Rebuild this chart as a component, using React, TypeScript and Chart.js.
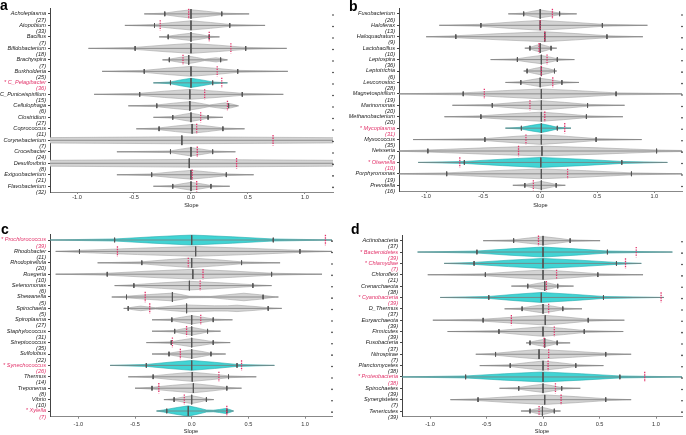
import React, { useEffect, useRef } from "react";
import { Chart, registerables } from "chart.js";

Chart.register(...registerables);

const FONT = "'Liberation Sans', Arial, Helvetica, sans-serif";
const RED = "#e2336a";
const GRAY_FILL = "#d3d3d3";
const GRAY_EDGE = "#a4a4a4";
const CYAN_FILL = "#41d4d4";
const CYAN_EDGE = "#25abad";
const LINE_DARK = "#555555";
const LINE_MID = "#7c7c7c";

const xTickValues = [-1, -0.5, 0, 0.5, 1];
const axisTitle = "Slope";

// ---------- panel a ----------
const aNames = ["Acholeplasma", "Atopobium", "Bacillus", "Bifidobacterium", "Brachyspira", "Burkholderia", "C_Pelagibacter", "C_Puniceispirillum", "Cellulophaga", "Clostridium", "Coprococcus", "Corynebacterium", "Croceibacter", "Desulfovibrio", "Exiguobacterium", "Flavobacterium"];
const aCounts = [27, 33, 7, 18, 7, 25, 36, 15, 6, 27, 11, 7, 24, 8, 21, 32];
const aMarked = [6];
const aLow = [-0.41, -0.58, -0.28, -0.9, -0.25, -0.78, -0.33, -0.85, -0.55, -0.33, -0.48, -4.5, -0.65, -4.5, -0.65, -0.33];
const aTickLow = [-0.23, -0.32, -0.2, -0.49, -0.19, -0.41, -0.18, -0.45, -0.3, -0.16, -0.28, -4, -0.18, -4, -0.345, -0.16];
const aMedian = [0, 0, 0, 0, -0.02, 0, 0, -0.01, -0.01, 0, 0.01, -0.08, 0, -0.015, 0, 0];
const aTickHigh = [0.27, 0.34, 0.16, 0.48, 0.26, 0.41, 0.19, 0.45, 0.33, 0.15, 0.28, 4, 0.19, 4, 0.31, 0.175];
const aHigh = [0.51, 0.65, 0.25, 0.84, 0.32, 0.85, 0.32, 0.81, 0.41, 0.28, 0.47, 4.5, 0.39, 4.5, 0.55, 0.34];
const aWidth = [0.36, 0.4, 0.32, 0.43, 0.32, 0.43, 0.4, 0.43, 0.36, 0.36, 0.38, 0.3, 0.36, 0.33, 0.38, 0.34];
const aObserved = [-0.02, -0.27, 0.16, 0.35, -0.07, 0.23, 0.27, 0.12, 0.32, 0.085, 0.05, 0.72, 0.055, 0.4, 0.01, 0.05];
const aExtras = {
  4: { bodyR: 0.12, lobes: [[0.1, 0.22, 0.32, 0.18]] },
  8: { bodyR: 0.16, lobes: [[0.14, 0.3, 0.42, 0.26]] },
};

// ---------- panel b ----------
const bNames = ["Fusobacterium", "Haloferax", "Haloquadratum", "Lactobacillus", "Leptospira", "Leptotrichia", "Leuconostoc", "Magnetospirillum", "Marinomonas", "Methanobacterium", "Mycoplasma", "Myxococcus", "Neisseria", "Olsenella", "Porphyromonas", "Prevotella"];
const bCounts = [26, 13, 9, 10, 36, 6, 28, 19, 20, 20, 31, 35, 7, 10, 19, 16];
const bMarked = [10, 13];
const bLow = [-0.28, -0.885, -1.0, -0.135, -0.435, -0.145, -0.305, -1.3, -0.77, -0.84, -0.305, -1.115, -1.35, -1.07, -1.35, -0.24];
const bTickLow = [-0.145, -0.52, -0.74, -0.09, -0.2, -0.115, -0.17, -0.675, -0.42, -0.52, -0.165, -0.485, -0.985, -0.665, -0.82, -0.135];
const bMedian = [0, 0, 0.04, 0, 0.01, 0.01, 0, 0.01, 0.01, 0.01, 0.01, 0.01, 0.015, 0.005, 0.01, 0.01];
const bTickHigh = [0.17, 0.545, 0.585, 0.095, 0.15, 0.125, 0.19, 0.665, 0.415, 0.405, 0.15, 0.49, 1.02, 0.715, 0.8, 0.14];
const bHigh = [0.32, 0.94, 0.9, 0.145, 0.3, 0.145, 0.34, 1.4, 0.74, 0.725, 0.27, 0.89, 1.5, 1.115, 1.3, 0.22];
const bWidth = [0.34, 0.43, 0.43, 0.34, 0.36, 0.34, 0.36, 0.43, 0.4, 0.4, 0.38, 0.42, 0.43, 0.44, 0.43, 0.34];
const bObserved = [0.107, 0, 0.04, -0.01, 0.06, 0.01, 0.11, -0.49, -0.09, 0.04, 0.215, -0.125, -0.19, -0.705, 0.24, -0.06];
const bExtras = {};

// ---------- panel c ----------
const cNames = ["Prochlorococcus", "Rhodobacter", "Rhodopirellula", "Ruegeria", "Selenomonas", "Shewanella", "Spirochaeta", "Spiroplasma", "Staphylococcus", "Streptococcus", "Sulfolobus", "Synechococcus", "Thermus", "Treponema", "Vibrio", "Xylella"];
const cCounts = [39, 11, 20, 10, 6, 5, 5, 27, 31, 35, 22, 26, 14, 8, 10, 7];
const cMarked = [0, 11, 15];
const cLow = [-1.3, -1.2, -0.83, -1.2, -0.68, -0.705, -0.6, -0.35, -0.35, -0.4, -0.35, -0.72, -0.56, -0.5, -0.245, -0.31];
const cTickLow = [-0.68, -0.99, -0.44, -0.745, -0.51, -0.575, -0.56, -0.175, -0.15, -0.18, -0.2, -0.4, -0.34, -0.35, -0.155, -0.22];
const cMedian = [0, 0.035, 0, 0.01, -0.02, -0.17, -0.045, 0, 0, 0, 0, 0, 0.005, 0.015, 0, -0.03];
const cTickHigh = [0.72, 0.955, 0.44, 0.705, 0.54, 0.63, 0.675, 0.19, 0.14, 0.19, 0.17, 0.4, 0.325, 0.31, 0.13, 0.31];
const cHigh = [1.3, 1.245, 0.78, 1.15, 0.705, 0.765, 0.795, 0.36, 0.255, 0.34, 0.3, 0.73, 0.57, 0.44, 0.195, 0.37];
const cWidth = [0.44, 0.43, 0.42, 0.43, 0.38, 0.34, 0.3, 0.36, 0.34, 0.36, 0.36, 0.43, 0.4, 0.4, 0.34, 0.45];
const cObserved = [1.18, -0.655, -0.03, 0.1, 0.075, -0.41, -0.37, 0.08, -0.045, -0.17, -0.1, 0.44, 0.24, -0.29, -0.065, 0.31];
const cExtras = {
  5: { bodyR: -0.02, lobes: [[0.17, 0.46, 0.74, 0.33]] },
  6: { bodyL: -0.32, lobes: [[-0.58, -0.45, -0.3, 0.2], [0.0, 0.4, 0.72, 0.28]] },
  15: { bodyL: -0.25, bodyR: 0.13, lobes: [[0.19, 0.3, 0.37, 0.22]] },
};

// ---------- panel d ----------
const dNames = ["Actinobacteria", "Bacteroidetes", "Chlamydiae", "Chloroflexi", "Crenarchaeota", "Cyanobacteria", "D_Thermus", "Euryarchaeota", "Firmicutes", "Fusobacteria", "Nitrospirae", "Planctomycetes", "Proteobacteria", "Spirochaetes", "Synergistetes", "Tenericutes"];
const dCounts = [37, 39, 7, 21, 38, 39, 37, 39, 39, 37, 7, 38, 38, 39, 7, 39];
const dMarked = [1, 2, 5, 12];
const dLow = [-0.53, -1.11, -0.875, -1.02, -0.28, -0.91, -0.34, -0.975, -0.845, -0.15, -0.595, -0.56, -1.3, -0.385, -0.82, -0.195];
const dTickLow = [-0.26, -0.585, -0.61, -0.51, -0.135, -0.48, -0.185, -0.53, -0.39, -0.115, -0.42, -0.29, -0.685, -0.215, -0.575, -0.115];
const dMedian = [0, 0, 0, 0, 0.015, -0.015, 0, 0.02, 0, 0.015, -0.035, 0, 0, 0, 0.015, -0.005];
const dTickHigh = [0.24, 0.57, 0.65, 0.485, 0.13, 0.535, 0.175, 0.4, 0.365, 0.125, 0.555, 0.29, 0.68, 0.165, 0.555, 0.1];
const dHigh = [0.505, 1.145, 0.87, 0.885, 0.27, 1.07, 0.345, 0.72, 0.71, 0.24, 0.78, 0.535, 1.3, 0.33, 0.78, 0.155];
const dWidth = [0.36, 0.44, 0.44, 0.42, 0.34, 0.44, 0.36, 0.42, 0.42, 0.32, 0.42, 0.4, 0.44, 0.36, 0.42, 0.32];
const dObserved = [-0.04, 0.825, 0.73, 0.12, 0.03, 1.045, 0.05, -0.28, 0.1, 0.01, 0.05, 0.045, 0.9, 0.11, 0.16, -0.035];
const dExtras = {};

const panelData = [
  { letter: "a", names: aNames, counts: aCounts, marked: aMarked, low: aLow, tickLow: aTickLow, median: aMedian, tickHigh: aTickHigh, high: aHigh, width: aWidth, observed: aObserved, extras: aExtras },
  { letter: "b", names: bNames, counts: bCounts, marked: bMarked, low: bLow, tickLow: bTickLow, median: bMedian, tickHigh: bTickHigh, high: bHigh, width: bWidth, observed: bObserved, extras: bExtras },
  { letter: "c", names: cNames, counts: cCounts, marked: cMarked, low: cLow, tickLow: cTickLow, median: cMedian, tickHigh: cTickHigh, high: cHigh, width: cWidth, observed: cObserved, extras: cExtras },
  { letter: "d", names: dNames, counts: dCounts, marked: dMarked, low: dLow, tickLow: dTickLow, median: dMedian, tickHigh: dTickHigh, high: dHigh, width: dWidth, observed: dObserved, extras: dExtras },
];

// layout (pixels) for each panel
const panelGeo = [
  { left: 0, top: 0, w: 343, h: 217, area: { l: 50, r: 333, t: 7, b: 192 }, xRange: [-1.237, 1.246], titlePad: 7.8, tickPad: 0, letter: { left: 0, top: -2 } },
  { left: 343, top: 0, w: 343, h: 217, area: { l: 56, r: 342, t: 7, b: 191 }, xRange: [-1.238, 1.243], titlePad: 8.5, tickPad: 0, letter: { left: 349, top: -1 } },
  { left: 0, top: 217, w: 343, h: 218, area: { l: 50, r: 332, t: 17.3, b: 199.7 }, xRange: [-1.25, 1.238], titlePad: 0, tickPad: 2, letter: { left: 1, top: 221.5 } },
  { left: 343, top: 217, w: 343, h: 218, area: { l: 59, r: 341, t: 18, b: 199.7 }, xRange: [-1.248, 1.23], titlePad: 0, tickPad: 2, letter: { left: 351, top: 221.5 } },
];

// outline of one violin, derived from its summary values
function shapeProfile(lo: number, bL: number, med: number, bR: number, hi: number, W: number, lobes: number[][]) {
  const comps: number[][][] = [
    [
      [lo, 0],
      [bL, 0.2 * W],
      [(bL + med) / 2, 0.64 * W],
      [med, W],
      [(bR + med) / 2, 0.64 * W],
      [bR, 0.2 * W],
      [hi, 0],
    ],
    ...lobes.map(([l, p, r, w]) => [[l, 0], [(l + p) / 2, 0.6 * w], [p, w], [(p + r) / 2, 0.6 * w], [r, 0]]),
  ];
  const xs = Array.from(new Set(comps.flat().map((k) => k[0]))).sort((a, b) => a - b);
  const ev = (c: number[][], x: number) => {
    if (x < c[0][0] || x > c[c.length - 1][0]) return 0;
    for (let k = 0; k < c.length - 1; k++) {
      if (x <= c[k + 1][0]) {
        const span = c[k + 1][0] - c[k][0];
        const t = span > 0 ? (x - c[k][0]) / span : 1;
        return c[k][1] + t * (c[k + 1][1] - c[k][1]);
      }
    }
    return 0;
  };
  return xs.map((x) => [x, Math.max(...comps.map((c) => ev(c, x)))]);
}

function clipProfile(pts: number[][], a: number, b: number) {
  const out: number[][] = [];
  for (let k = 0; k < pts.length; k++) {
    const [x, h] = pts[k];
    if (x >= a && x <= b) out.push([x, h]);
    if (k < pts.length - 1) {
      const [x2, h2] = pts[k + 1];
      if (x < a && x2 > a) out.push([a, h + ((h2 - h) * (a - x)) / (x2 - x)]);
      if (x < b && x2 > b) out.push([b, h + ((h2 - h) * (b - x)) / (x2 - x)]);
    }
  }
  return out;
}

function lineDs(data: any[], color: string, width: number, order: number) {
  return { type: "line", data, borderColor: color, borderWidth: width, pointRadius: 0, fill: false, order, tension: 0 };
}

function buildConfig(d: any, g: any) {
  const [xmin, xmax] = g.xRange;
  const n = d.names.length;
  const datasets: any[] = [];
  for (let i = 0; i < n; i++) {
    const hl = d.marked.includes(i);
    const ex = d.extras[i] || {};
    const bL = ex.bodyL ?? d.tickLow[i];
    const bR = ex.bodyR ?? d.tickHigh[i];
    const prof = clipProfile(
      shapeProfile(d.low[i], bL, d.median[i], bR, d.high[i], d.width[i], ex.lobes || []),
      xmin,
      xmax
    );
    const edge = hl ? CYAN_EDGE : GRAY_EDGE;
    datasets.push(lineDs(prof.map(([x, h]) => ({ x, y: i - h })), edge, 0.6, 4));
    datasets.push({
      ...lineDs(prof.map(([x, h]) => ({ x, y: i + h })), edge, 0.6, 4),
      fill: "-1",
      backgroundColor: hl ? CYAN_FILL : GRAY_FILL,
    });
    datasets.push(
      lineDs(
        [
          { x: Math.max(d.low[i], xmin), y: i },
          { x: Math.min(d.high[i], xmax), y: i },
        ],
        LINE_MID,
        0.8,
        3
      )
    );
    for (const t of [d.tickLow[i], d.tickHigh[i]]) {
      if (t >= xmin && t <= xmax) {
        datasets.push(lineDs([{ x: t, y: i - 0.2 }, { x: t, y: i + 0.2 }], LINE_DARK, 1, 2));
      }
    }
    datasets.push(lineDs([{ x: d.median[i], y: i - 0.42 }, { x: d.median[i], y: i + 0.42 }], LINE_DARK, 1, 2));
    datasets.push({
      ...lineDs([{ x: d.observed[i], y: i - 0.45 }, { x: d.observed[i], y: i + 0.45 }], RED, 1.3, 1),
      borderDash: [1.4, 1.1],
    });
  }
  datasets.push({
    type: "line",
    data: d.names.map((_: string, i: number) => ({ x: xmax, y: i + 0.1 })),
    showLine: false,
    pointRadius: 0.8,
    pointBorderWidth: 0,
    pointBackgroundColor: "#222",
    clip: false,
    order: 0,
  });

  return {
    type: "line",
    data: { datasets },
    options: {
      responsive: false,
      animation: false,
      events: [],
      layout: { padding: { left: 0, right: g.w - g.area.r, top: g.area.t, bottom: 0 } },
      plugins: { legend: { display: false }, tooltip: { enabled: false }, title: { display: false } },
      scales: {
        x: {
          type: "linear",
          min: xmin,
          max: xmax,
          afterBuildTicks: (axis: any) => {
            axis.ticks = xTickValues.map((v) => ({ value: v }));
          },
          afterFit: (axis: any) => {
            axis.height = g.h - g.area.b;
          },
          ticks: {
            autoSkip: false,
            maxRotation: 0,
            padding: g.tickPad,
            color: "#333",
            font: { family: FONT, size: 5.6 },
            callback: (v: any) => Number(v).toFixed(1),
          },
          grid: { drawOnChartArea: false, tickLength: 2, color: "#888" },
          border: { color: "#888", width: 1 },
          title: {
            display: true,
            text: axisTitle,
            color: "#222",
            font: { family: FONT, size: 5.6 },
            padding: { top: 0, bottom: g.titlePad },
          },
        },
        y: {
          type: "linear",
          reverse: true,
          min: -0.5,
          max: n - 0.5,
          afterBuildTicks: (axis: any) => {
            axis.ticks = d.names.map((_: string, i: number) => ({ value: i }));
          },
          afterFit: (axis: any) => {
            axis.width = g.area.l;
          },
          ticks: {
            autoSkip: false,
            padding: 2,
            labelOffset: 3,
            font: { family: FONT, size: 5.6, style: "italic", lineHeight: 1.1 },
            color: (ctx: any) => {
              const i = Math.round(ctx.tick ? ctx.tick.value : ctx.index);
              return d.marked.includes(i) ? RED : "#1a1a1a";
            },
            callback: (v: any) => {
              const i = Math.round(Number(v));
              const nm = (d.marked.includes(i) ? "* " : "") + d.names[i];
              return [nm, `(${d.counts[i]})`];
            },
          },
          grid: { drawOnChartArea: false, tickLength: 2, color: "#444" },
          border: { color: "#444", width: 1 },
        },
      },
    },
  };
}

function ViolinPanel({ data, geo }: { data: any; geo: any }) {
  const ref = useRef<HTMLCanvasElement | null>(null);
  useEffect(() => {
    const canvas = ref.current;
    if (!canvas) return;
    const chart = new Chart(canvas, buildConfig(data, geo) as any);
    return () => chart.destroy();
  }, [data, geo]);
  return (
    <canvas
      ref={ref}
      width={geo.w}
      height={geo.h}
      style={{ position: "absolute", left: geo.left, top: geo.top, width: geo.w, height: geo.h, display: "block" }}
    />
  );
}

export default function App() {
  return (
    <div
      style={{
        position: "fixed",
        left: 0,
        top: 0,
        width: 686,
        height: 435,
        background: "#ffffff",
        overflow: "hidden",
      }}
    >
      {panelData.map((p, k) => (
        <ViolinPanel key={p.letter} data={p} geo={panelGeo[k]} />
      ))}
      {panelData.map((p, k) => (
        <div
          key={"l" + p.letter}
          style={{
            position: "absolute",
            left: panelGeo[k].letter.left,
            top: panelGeo[k].letter.top,
            fontFamily: FONT,
            fontWeight: "bold",
            fontSize: 14,
            lineHeight: "14px",
            color: "#000",
          }}
        >
          {p.letter}
        </div>
      ))}
    </div>
  );
}
